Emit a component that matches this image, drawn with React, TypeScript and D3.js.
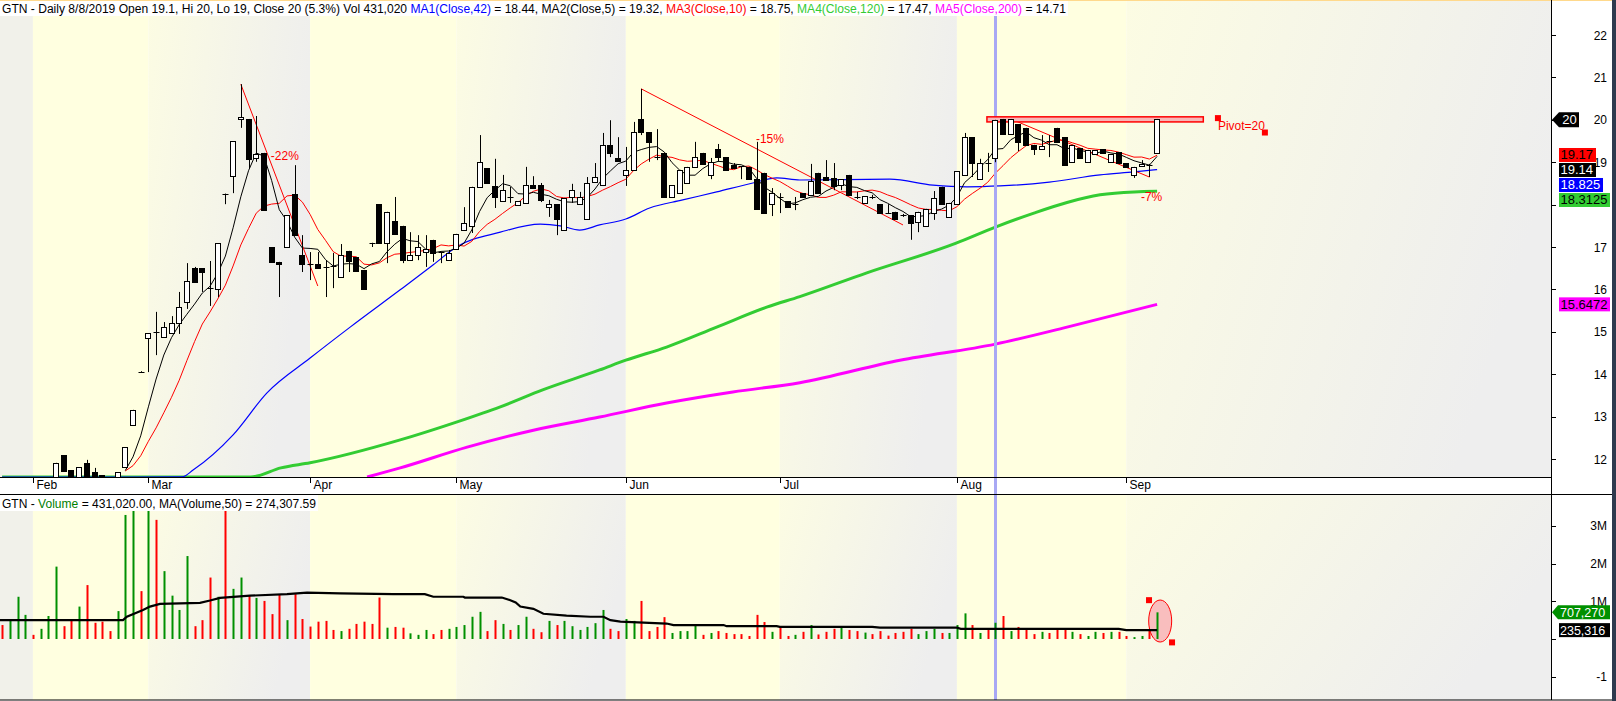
import React from "react";
import * as d3 from "d3";

// ---- data (bar index 0 = first visible candle) ----
// [open, high, low, close]
const candles: [number, number, number, number][] = [
  [11.5, 11.91, 11.5, 11.91], [12.09, 12.09, 11.7, 11.72], [11.74, 11.74, 11.5, 11.55], [11.55, 11.81, 11.55, 11.81],
  [11.91, 11.98, 11.5, 11.55], [11.69, 11.79, 11.55, 11.55], [11.62, 11.62, 11.52, 11.57], [11.56, 11.57, 11.5, 11.55],
  [11.55, 11.69, 11.55, 11.69], [11.81, 12.28, 11.81, 12.28], [12.8, 13.16, 12.8, 13.16], [14.06, 14.07, 14.03, 14.05],
  [14.85, 14.97, 14.05, 14.97], [14.99, 15.47, 14.45, 14.97], [14.88, 15.23, 14.88, 15.11], [14.97, 15.37, 14.97, 15.21],
  [15.21, 15.94, 14.95, 15.58], [15.7, 16.62, 15.54, 16.2], [16.5, 16.53, 16.17, 16.17], [16.5, 16.5, 15.94, 16.41],
  [16.03, 16.67, 15.61, 16.01], [16.01, 17.09, 15.82, 17.09], [18.26, 18.26, 18.01, 18.25], [18.67, 19.5, 18.27, 19.5],
  [20.02, 20.84, 19.81, 20.07], [20.02, 20.02, 18.86, 19.08], [19.1, 20.09, 19.01, 19.19], [19.22, 19.22, 17.87, 17.87],
  [17.0, 17.0, 16.65, 16.65], [16.65, 16.65, 15.82, 16.6], [17.0, 17.75, 17.0, 17.75], [18.25, 18.93, 17.28, 17.28],
  [16.81, 17.28, 16.41, 16.6], [16.61, 16.88, 16.22, 16.6], [16.6, 16.88, 16.5, 16.5], [16.54, 16.69, 15.82, 16.53],
  [16.56, 16.86, 16.03, 16.53], [16.29, 17.07, 16.29, 16.81], [16.91, 16.91, 16.41, 16.67], [16.76, 16.76, 16.43, 16.43],
  [16.46, 16.46, 16.01, 16.01], [17.1, 17.1, 17.0, 17.09], [18.01, 18.01, 17.09, 17.09], [17.09, 17.83, 16.62, 17.83],
  [17.61, 18.18, 17.31, 17.31], [17.5, 17.5, 16.62, 16.69], [16.69, 17.35, 16.69, 16.81], [16.81, 17.28, 16.69, 17.0],
  [16.88, 17.28, 16.53, 16.95], [17.17, 17.17, 16.65, 16.86], [16.88, 16.88, 16.62, 16.86], [16.69, 16.93, 16.69, 16.86],
  [16.95, 17.31, 16.95, 17.31], [17.4, 17.94, 17.4, 17.57], [17.5, 18.42, 17.33, 18.42], [18.42, 19.64, 18.42, 19.01],
  [18.86, 18.86, 18.51, 18.51], [18.44, 19.08, 17.92, 18.18], [18.08, 18.7, 18.08, 18.34], [18.19, 18.42, 18.04, 18.18],
  [17.99, 18.08, 17.99, 18.08], [18.04, 18.89, 18.04, 18.46], [18.46, 18.67, 18.39, 18.39], [18.46, 18.51, 18.06, 18.11],
  [17.94, 18.11, 17.71, 18.01], [18.01, 18.01, 17.28, 17.66], [17.4, 18.16, 17.4, 18.16], [18.18, 18.49, 18.04, 18.34],
  [18.01, 18.3, 18.01, 18.18], [17.66, 18.65, 17.66, 18.51], [18.53, 18.98, 18.53, 18.65], [18.46, 19.69, 18.46, 19.41],
  [19.41, 19.99, 19.12, 19.22], [19.1, 19.59, 19.03, 19.03], [18.7, 19.36, 18.44, 18.82], [18.82, 19.95, 18.82, 19.71],
  [20.02, 20.73, 19.64, 19.71], [19.71, 19.71, 19.01, 19.48], [19.13, 19.78, 19.05, 19.12], [19.22, 19.22, 18.18, 18.18],
  [18.18, 18.46, 18.18, 18.46], [18.27, 18.82, 18.27, 18.82], [18.51, 18.89, 18.51, 18.89], [18.89, 19.48, 18.89, 19.12],
  [19.22, 19.22, 18.96, 18.96], [18.7, 19.1, 18.6, 19.01], [19.31, 19.43, 19.01, 19.12], [19.12, 19.12, 18.82, 18.82],
  [18.93, 18.98, 18.86, 18.86], [18.9, 18.91, 18.6, 18.89], [18.89, 18.89, 18.6, 18.6], [18.6, 19.48, 17.9, 17.9],
  [18.75, 18.75, 17.8, 17.8], [18.01, 18.39, 17.73, 18.27], [18.19, 18.27, 17.8, 18.18], [18.08, 18.08, 17.94, 17.94],
  [18.0, 18.18, 17.87, 18.01], [18.27, 18.27, 18.18, 18.18], [18.23, 18.96, 18.23, 18.56], [18.75, 18.75, 18.27, 18.27],
  [18.65, 19.05, 18.58, 18.58], [18.63, 18.98, 18.34, 18.44], [18.46, 18.6, 18.34, 18.6], [18.7, 18.7, 18.23, 18.23],
  [18.19, 18.3, 18.13, 18.18], [18.04, 18.2, 18.04, 18.2], [18.19, 18.23, 18.13, 18.18], [18.01, 18.01, 17.8, 17.8],
  [17.81, 18.01, 17.8, 17.8], [17.83, 17.83, 17.66, 17.66], [17.76, 17.78, 17.71, 17.75], [17.75, 17.75, 17.17, 17.57],
  [17.59, 17.83, 17.35, 17.83], [17.5, 17.9, 17.5, 17.9], [17.8, 18.32, 17.64, 18.16], [18.42, 18.42, 18.01, 18.01],
  [17.71, 18.04, 17.71, 18.04], [18.01, 18.79, 18.01, 18.79], [18.7, 19.69, 18.7, 19.59], [19.59, 19.59, 18.65, 18.98],
  [18.6, 19.08, 18.6, 18.98], [18.99, 19.22, 18.77, 18.98], [19.1, 20.0, 19.0, 20.0], [20.02, 20.02, 19.67, 19.67],
  [19.67, 20.02, 19.67, 20.02], [19.9, 19.9, 19.26, 19.48], [19.81, 19.81, 19.41, 19.41], [19.41, 19.41, 19.17, 19.31],
  [19.31, 19.64, 19.31, 19.38], [19.49, 19.64, 19.12, 19.48], [19.81, 19.81, 19.48, 19.48], [19.59, 19.59, 18.93, 18.93],
  [19.01, 19.41, 19.01, 19.41], [19.33, 19.33, 19.1, 19.1], [19.01, 19.29, 19.01, 19.29], [19.19, 19.29, 19.19, 19.29],
  [19.31, 19.31, 19.22, 19.22], [19.01, 19.19, 19.01, 19.19], [19.24, 19.24, 18.98, 18.98], [18.98, 18.98, 18.89, 18.89],
  [18.7, 18.89, 18.63, 18.89], [18.91, 19.05, 18.91, 18.96], [18.94, 18.96, 18.65, 18.93], [19.22, 20.02, 19.22, 20.02],
];

// volume in millions; the first bars sit before the first visible candle
const preVolumes = [0.37, 0.5, 1.12, 0.64, 0.11, 0.27, 0.61];
const preVolUp = [false, true, true, true, false, true, true];
const volumes = [
  1.92, 0.34, 0.48, 0.86, 1.43, 0.43, 0.46, 0.21, 0.74, 3.29, 3.55, 1.27, 3.8, 3.16, 1.8, 1.15, 0.77, 2.2, 0.34, 0.5,
  1.63, 1.12, 3.7, 1.33, 1.63, 1.15, 1.09, 1.01, 0.66, 1.19, 0.5, 1.19, 0.53, 0.33, 0.46, 0.48, 0.24, 0.21, 0.27, 0.4,
  0.46, 0.4, 1.1, 0.3, 0.32, 0.3, 0.15, 0.11, 0.24, 0.13, 0.24, 0.27, 0.32, 0.37, 0.59, 0.72, 0.21, 0.5, 0.4, 0.24,
  0.37, 0.59, 0.27, 0.18, 0.48, 0.37, 0.48, 0.34, 0.24, 0.32, 0.42, 0.77, 0.27, 0.21, 0.53, 0.48, 1.01, 0.21, 0.32, 0.58,
  0.16, 0.21, 0.21, 0.37, 0.11, 0.16, 0.21, 0.16, 0.13, 0.13, 0.08, 0.64, 0.45, 0.19, 0.32, 0.08, 0.11, 0.19, 0.37, 0.12,
  0.19, 0.27, 0.3, 0.24, 0.21, 0.17, 0.13, 0.21, 0.09, 0.16, 0.19, 0.27, 0.13, 0.21, 0.27, 0.16, 0.16, 0.37, 0.68, 0.37,
  0.16, 0.27, 0.431, 0.61, 0.21, 0.32, 0.24, 0.13, 0.19, 0.16, 0.24, 0.27, 0.19, 0.13, 0.08, 0.19, 0.16, 0.19, 0.19, 0.08,
  0.05, 0.08, 0.24, 0.707,
];

// [bar, value] samples of the long averages and the volume average
const ma42Pts: [number, number][] = [
  [-7, 11.2], [10, 11.4], [16.4, 11.58], [17.8, 11.74], [23, 12.57], [27.4, 13.56], [33, 14.38], [38.2, 15.11],
  [44.7, 15.99], [49, 16.58], [52, 17.0], [57.7, 17.35], [62.9, 17.54], [65.5, 17.5], [68, 17.4], [70.6, 17.52],
  [74, 17.66], [77.1, 17.92], [81.4, 18.11], [85.8, 18.3], [90.5, 18.51], [93.6, 18.63], [96.6, 18.58], [108.3, 18.6],
  [113.9, 18.46], [118.3, 18.42], [122.6, 18.44], [129, 18.53], [135.6, 18.7], [140, 18.77], [143, 18.825],
];
const ma120Pts: [number, number][] = [
  [-7, 11.0], [25, 11.5], [25.6, 11.58], [29.2, 11.79], [33, 11.91], [44.7, 12.45], [52, 12.87], [57.7, 13.23],
  [63.2, 13.63], [70.6, 14.1], [74, 14.33], [79.3, 14.64], [85.8, 15.11], [92.3, 15.58], [96.6, 15.83], [105.3, 16.39],
  [116.9, 17.09], [122, 17.47], [127, 17.8], [131.3, 18.05], [135.6, 18.23], [140, 18.3], [143, 18.3125],
];
const ma200Pts: [number, number][] = [
  [40.4, 11.575], [44.7, 11.79], [53.4, 12.28], [62, 12.68], [70.6, 12.99], [79.3, 13.32], [87.9, 13.58],
  [96.6, 13.8], [109.6, 14.33], [122, 14.71], [131.3, 15.11], [143, 15.6472],
];
const volMaPts: [number, number][] = [
  [-7.3, 0.5], [8.7, 0.5], [9.2, 0.59], [11.3, 0.77], [12.2, 0.86], [13.5, 0.93], [18.7, 0.96], [20, 1.02],
  [21.3, 1.09], [25.2, 1.15], [30, 1.19], [32.6, 1.23], [36.9, 1.21], [43.8, 1.19], [47.9, 1.19], [49, 1.12],
  [52.9, 1.12], [53.1, 1.1], [57.9, 1.1], [59, 1.03], [59.7, 0.97], [60.3, 0.86], [62, 0.8], [63.3, 0.67],
  [66.3, 0.62], [69.4, 0.59], [71.1, 0.59], [72, 0.5], [73.3, 0.46], [79.3, 0.41], [80.2, 0.37], [86.7, 0.37],
  [87.1, 0.34], [93.6, 0.34], [94, 0.32], [106, 0.32], [107, 0.3], [117, 0.3], [117.5, 0.27], [138, 0.27],
  [139, 0.235], [143, 0.235],
];

const monthBars = [-3, 12, 33, 52, 74, 94, 117, 139];
const monthNames = ["Feb", "Mar", "Apr", "May", "Jun", "Jul", "Aug", "Sep"];
const priceTicks = [12, 13, 14, 15, 16, 17, 18, 19, 20, 21, 22];
const volTicks = [-1, 0, 1, 2, 3];
const volTickLabels = ["-1", "0", "1M", "2M", "3M"];

// drawdown annotations: [bar, price]
const trendFrom: [number, number][] = [[24, 20.84], [76, 20.73], [124, 20.02]];
const trendTo: [number, number][] = [[34, 16.08], [110, 17.52], [142, 18.65]];
const pctLabels = ["-22%", "-15%", "-7%"];
const pctAt: [number, number][] = [[27.9, 19.05], [90.9, 19.45], [140.9, 18.08]];

const pivotBars = [120.9, 149];
const pivotPrices = [19.95, 20.07];
const pivotTextAt: [number, number] = [150.9, 19.76];
const pivotHandles: [number, number][] = [[150.9, 20.04], [157, 19.7]];
const ellipseAt: [number, number] = [143.4, 0.477];
const ellipseHandles: [number, number][] = [[141.95, 1.03], [144.94, -0.09]];

const cursorBar = 122;
const lastPrice = 20;
const tagValues = [19.17, 19.14, 18.825, 18.3125, 15.6472];
const tagBg = ["#FF0000", "#000000", "#0000FF", "#33CC33", "#FF00FF"];
const tagFg = ["#000", "#FFF", "#FFF", "#000", "#000"];
const volTagValues = [707270, 235316];

const headerParts: [string, string][] = [
  ["GTN - Daily 8/8/2019 Open 19.1, Hi 20, Lo 19, Close 20 (5.3%) Vol 431,020 ", "#000"],
  ["MA1(Close,42)", "#0000FF"],
  [" = 18.44, MA2(Close,5) = 19.32, ", "#000"],
  ["MA3(Close,10)", "#FF0000"],
  [" = 18.75, ", "#000"],
  ["MA4(Close,120)", "#33CC33"],
  [" = 17.47, ", "#000"],
  ["MA5(Close,200)", "#FF00FF"],
  [" = 14.71", "#000"],
];
const volHeaderParts: [string, string][] = [
  ["GTN - ", "#000"],
  ["Volume", "#008000"],
  [" = 431,020.00, MA(Volume,50) = 274,307.59", "#000"],
];

const FONT = "'Liberation Sans', Arial, sans-serif";
const PR = 1551; // right edge of plots
const xs = d3.scaleLinear().domain([-7.273, 194.156]).range([0, PR]);
const yp = d3.scaleLinear().domain([11.5755, 22.8255]).range([477, 0]);
const ypc = yp.copy().clamp(true);
const yv = d3.scaleLinear().domain([-1.618, 3.846]).range([700, 494]);

const closes = candles.map(c => c[3]);
function rolling(n: number, from: number): [number, number][] {
  const out: [number, number][] = [];
  closes.forEach((_, i) => {
    if (i >= from && i >= n - 1) out.push([i, d3.mean(closes.slice(i - n + 1, i + 1)) as number]);
  });
  return out;
}

const priceLine = d3.line<[number, number]>().x(d => xs(d[0])).y(d => ypc(d[1]));
const smoothLine = d3.line<[number, number]>().x(d => xs(d[0])).y(d => ypc(d[1])).curve(d3.curveMonotoneX);
const volLine = d3.line<[number, number]>().x(d => xs(d[0])).y(d => yv(d[1]));

export default function App() {
  const edges = [0, ...monthBars.map(b => xs(b)), PR];
  const bands = edges.slice(0, -1).map((x0, i) => ({ x0, x1: edges[i + 1], gray: i % 2 === 0, first: i === 0 }));
  const ma5 = rolling(5, 9);
  const ma10 = rolling(10, 9);

  // stacked value tags on the price axis
  let prev = -100;
  const tags = tagValues.map((v, i) => {
    const yc = Math.max(yp(v), prev + 15);
    prev = yc;
    return { v, yc, bg: tagBg[i], fg: tagFg[i], w: String(v).length * 7 + 2 };
  });
  // tick labels completely hidden behind a wide tag are not drawn
  const hiddenTick = (y: number) => tags.some(t => t.w >= 51 && Math.abs(t.yc - y) < 6);
  const fmt = d3.format(",");
  const cx = Math.round(xs(cursorBar)) + 0.5;

  const bandRects = (y0: number, y1: number) =>
    bands.map((b, i) => (
      <rect key={i} x={b.x0} y={y0} width={b.x1 - b.x0} height={y1 - y0}
        fill={b.first ? "#F1F1EA" : b.gray ? "url(#grayBand)" : "#FFFFE0"} />
    ));

  const vy1 = yv(volTagValues[0] / 1e6);
  const vy2 = Math.max(yv(volTagValues[1] / 1e6), vy1 + 15);

  return (
    <svg width={1616} height={701} style={{ position: "absolute", left: 0, top: 0, display: "block" }}
      fontFamily={FONT}>
      <defs>
        <linearGradient id="grayBand" x1="0" y1="0" x2="1" y2="0.35">
          <stop offset="0" stopColor="#FCFCE3" />
          <stop offset="1" stopColor="#EEEEEE" />
        </linearGradient>
        <clipPath id="clipP"><rect x={0} y={0} width={PR} height={477} /></clipPath>
        <clipPath id="clipV"><rect x={0} y={495} width={PR} height={205} /></clipPath>
      </defs>
      <rect x={0} y={0} width={1616} height={701} fill="#FFFFFF" />

      {/* price panel */}
      <g clipPath="url(#clipP)">
        {bandRects(0, 477)}
        <path d={smoothLine(ma200Pts) ?? ""} fill="none" stroke="#FF00FF" strokeWidth={3} />
        <path d={smoothLine(ma120Pts) ?? ""} fill="none" stroke="#33CC33" strokeWidth={3} />
        <path d={smoothLine(ma42Pts) ?? ""} fill="none" stroke="#0000FF" strokeWidth={1.2} />
        <path d={priceLine(ma10) ?? ""} fill="none" stroke="#FF0000" strokeWidth={1} />
        <path d={priceLine(ma5) ?? ""} fill="none" stroke="#000000" strokeWidth={1} />
        {trendFrom.map((a, i) => (
          <line key={i} x1={xs(a[0])} y1={yp(a[1])} x2={xs(trendTo[i][0])} y2={yp(trendTo[i][1])}
            stroke="#FF0000" strokeWidth={1} />
        ))}
        <line x1={cx} x2={cx} y1={16} y2={477} stroke="#A8A8F4" strokeWidth={3} />
        <rect x={xs(pivotBars[0])} y={yp(pivotPrices[1])} width={xs(pivotBars[1]) - xs(pivotBars[0])}
          height={yp(pivotPrices[0]) - yp(pivotPrices[1])} fill="#F6B8B8" stroke="#FF0000" strokeWidth={1.5} />
        {candles.map((c, k) => {
          const [o, h, l, cl] = c;
          const x = Math.round(xs(k)) + 0.5;
          const top = Math.min(yp(o), yp(cl));
          const bot = Math.max(yp(o), yp(cl));
          const up = cl >= o;
          return (
            <g key={k}>
              <line x1={x} x2={x} y1={yp(h)} y2={yp(l)} stroke="#000" strokeWidth={1} />
              {bot - top < 1.5 ? (
                <line x1={x - 3} x2={x + 3} y1={Math.round(top) + 0.5} y2={Math.round(top) + 0.5} stroke="#000" />
              ) : (
                <rect x={x - 3} y={Math.round(top) + 0.5} width={5} height={Math.max(1, Math.round(bot - top))}
                  fill={up ? "#FFFFFF" : "#000000"} stroke="#000" strokeWidth={1} />
              )}
            </g>
          );
        })}
        {pctLabels.map((t, i) => (
          <text key={i} x={xs(pctAt[i][0])} y={yp(pctAt[i][1])} fontSize={12} fill="#FF0000">{t}</text>
        ))}
        {pivotHandles.map((p, i) => (
          <rect key={i} x={xs(p[0]) - 3} y={yp(p[1]) - 3} width={6} height={6} fill="#FF0000" />
        ))}
        <text x={xs(pivotTextAt[0])} y={yp(pivotTextAt[1])} fontSize={12} fill="#FF0000">Pivot=20</text>
      </g>
      <rect x={0} y={0} width={1068} height={16} fill="#FFFFFF" />
      <text x={2} y={13} fontSize={12} textLength={1064} lengthAdjust="spacingAndGlyphs" style={{ whiteSpace: "pre" }}>
        {headerParts.map((p, i) => <tspan key={i} fill={p[1]}>{p[0]}</tspan>)}
      </text>

      {/* month axis strip */}
      <line x1={0} x2={PR} y1={477.5} y2={477.5} stroke="#000" />
      {monthBars.map((b, i) => {
        const x = Math.round(xs(b)) + 0.5;
        return (
          <g key={i}>
            <line x1={x} x2={x} y1={477} y2={483} stroke="#000" />
            <text x={x + 3} y={489} fontSize={12} fill="#000">{monthNames[i]}</text>
          </g>
        );
      })}
      <line x1={cx} x2={cx} y1={478} y2={494} stroke="#A8A8F4" strokeWidth={3} />

      {/* volume panel */}
      <g clipPath="url(#clipV)">
        {bandRects(495, 700)}
        <line x1={cx} x2={cx} y1={495} y2={700} stroke="#A8A8F4" strokeWidth={3} />
        <ellipse cx={xs(ellipseAt[0])} cy={yv(ellipseAt[1])} rx={11.5} ry={21} fill="#F9BEBE"
          stroke="#FF0000" strokeWidth={1} />
        {preVolumes.map((v, i) => {
          const k = i - preVolumes.length;
          return (
            <rect key={"p" + i} x={Math.round(xs(k)) - 0.5} y={yv(v)} width={2} height={yv(0) - yv(v)}
              fill={preVolUp[i] ? "#009000" : "#FF0000"} />
          );
        })}
        {volumes.map((v, k) => (
          <rect key={k} x={Math.round(xs(k)) - 0.5} y={yv(v)} width={2} height={yv(0) - yv(v)}
            fill={candles[k][3] >= candles[k][0] ? "#009000" : "#FF0000"} />
        ))}
        <path d={volLine(volMaPts) ?? ""} fill="none" stroke="#000" strokeWidth={2.2} />
        {ellipseHandles.map((p, i) => (
          <rect key={i} x={xs(p[0]) - 3} y={yv(p[1]) - 3} width={6} height={6} fill="#FF0000" />
        ))}
      </g>
      <rect x={0} y={495} width={318} height={16} fill="#FFFFFF" />
      <text x={2} y={508} fontSize={12} textLength={314} lengthAdjust="spacingAndGlyphs" style={{ whiteSpace: "pre" }}>
        {volHeaderParts.map((p, i) => <tspan key={i} fill={p[1]}>{p[0]}</tspan>)}
      </text>

      {/* right axis */}
      <rect x={PR} y={0} width={1612 - PR} height={701} fill="#FFFFFF" />
      <line x1={0} x2={1612} y1={0.5} y2={0.5} stroke="#FFD98C" />
      <line x1={PR + 0.5} x2={PR + 0.5} y1={0} y2={700} stroke="#000" />
      <line x1={0} x2={1612} y1={494.5} y2={494.5} stroke="#000" />
      <line x1={0} x2={1612} y1={700} y2={700} stroke="#000" />
      {priceTicks.map(t => (
        <g key={t}>
          <line x1={PR} x2={PR + 5} y1={Math.round(yp(t)) + 0.5} y2={Math.round(yp(t)) + 0.5} stroke="#000" />
          {!hiddenTick(yp(t)) && <text x={1607} y={yp(t) + 4.5} fontSize={12} textAnchor="end">{t}</text>}
        </g>
      ))}
      {volTicks.map((t, i) => (
        <g key={t}>
          <line x1={PR} x2={PR + 5} y1={Math.round(yv(t)) + 0.5} y2={Math.round(yv(t)) + 0.5} stroke="#000" />
          {Math.abs(yv(t) - vy2) > 9 && (
            <text x={1607} y={yv(t) + 4.5} fontSize={12} textAnchor="end">{volTickLabels[i]}</text>
          )}
        </g>
      ))}
      {/* last price tag */}
      {(() => {
        const yc = yp(lastPrice);
        return (
          <g>
            <polygon points={`${PR + 1},${yc} ${PR + 8},${yc - 7.5} ${PR + 28},${yc - 7.5} ${PR + 28},${yc + 7.5} ${PR + 8},${yc + 7.5}`} fill="#000" />
            <text x={PR + 18.5} y={yc + 4.5} fontSize={13} fill="#FFF" textAnchor="middle">{lastPrice}</text>
          </g>
        );
      })()}
      {tags.map((t, i) => (
        <g key={i}>
          <rect x={1559} y={t.yc - 7} width={t.w} height={14} fill={t.bg} />
          <text x={1560.5} y={t.yc + 4.5} fontSize={13} fill={t.fg}>{String(t.v)}</text>
        </g>
      ))}
      <polygon points={`${PR + 1},${vy1} ${PR + 7},${vy1 - 7} 1610,${vy1 - 7} 1610,${vy1 + 7} ${PR + 7},${vy1 + 7}`} fill="#009000" />
      <text x={1560} y={vy1 + 4.5} fontSize={12.5} fill="#FFF">{fmt(volTagValues[0])}</text>
      <rect x={1559} y={vy2 - 7} width={51} height={14} fill="#000" />
      <text x={1560} y={vy2 + 4.5} fontSize={12.5} fill="#FFF">{fmt(volTagValues[1])}</text>
      <rect x={1612} y={0} width={4} height={701} fill="#2E3A4E" />
    </svg>
  );
}
